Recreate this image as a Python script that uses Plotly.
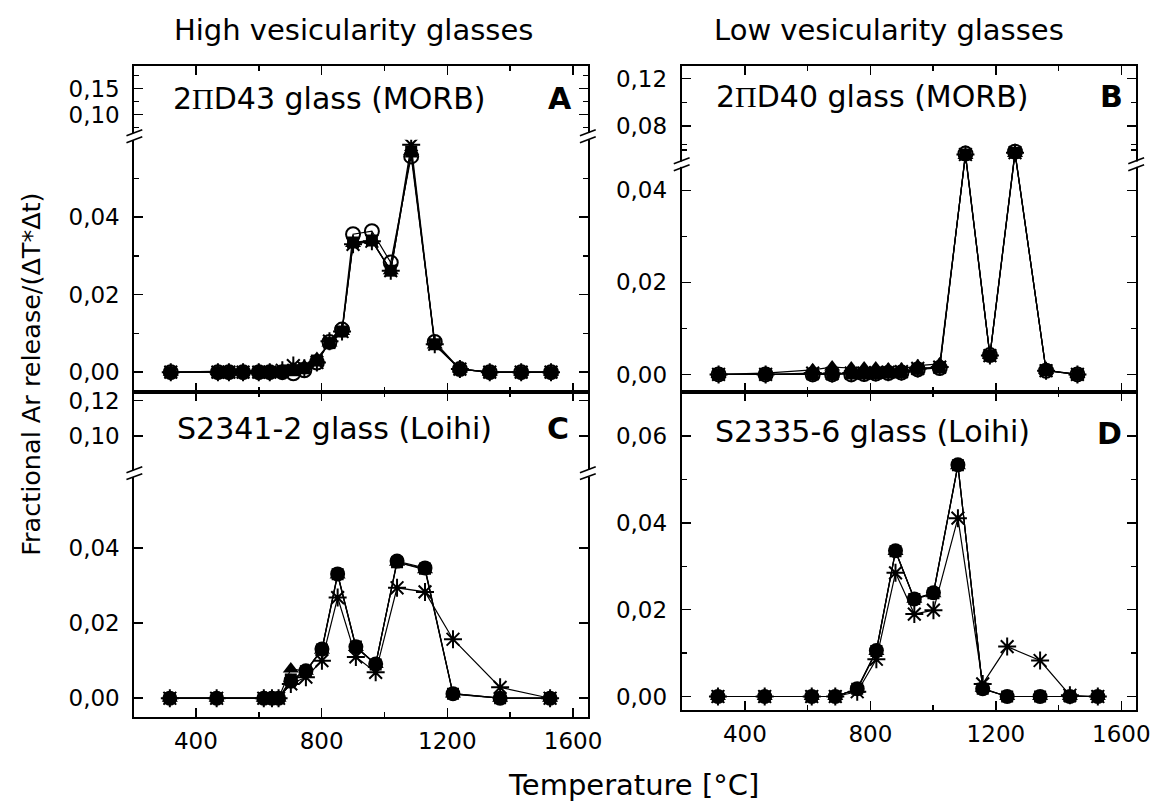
import plotly.graph_objects as go

W, H = 1164, 802
FONT = "DejaVu Sans"

# ---------------- data ----------------
T_A = [320, 470, 505, 550, 600, 635, 675, 710, 745, 785, 825, 865, 900, 960, 1020, 1085, 1160, 1240, 1335, 1435, 1530]
A_sq = [0, 0, 0, 0, 0, 0, 0, 0.0005, 0.001, 0.003, 0.0075, 0.0105, 0.0335, 0.034, 0.0262, 0.057, 0.0072, 0.0008, 0, 0, 0]
A_ci = [0, 0, 0, 0, 0, 0, 0, -0.0003, 0.0005, 0.0025, 0.0078, 0.011, 0.0356, 0.0364, 0.0283, 0.0557, 0.0078, 0.0008, 0, 0, 0]
A_tr = [0, 0.0002, 0.0003, 0.0004, 0.0004, 0.0004, 0.0005, 0.001, 0.0015, 0.0035, 0.0075, 0.0105, 0.0332, 0.034, 0.0262, 0.057, 0.007, 0.0008, 0, 0, 0]
A_st = [0, 0, 0, 0, 0, 0, 0.0005, 0.0017, 0.001, 0.0025, 0.008, 0.0105, 0.033, 0.0338, 0.0262, 0.0587, 0.0072, 0.0008, 0, 0, 0]

T_B = [316, 466, 616, 678, 739, 780, 817, 857, 899, 951, 1021, 1103, 1181, 1261, 1360, 1460]
B_sq = [0, 0, 0, 0, 0.0002, 0.0002, 0.0003, 0.0004, 0.0005, 0.0012, 0.0015, 0.0478, 0.0041, 0.0482, 0.0009, 0]
B_ci = [0, 0, 0, 0, 0, 0.0001, 0.0002, 0.0003, 0.0004, 0.0011, 0.0014, 0.0480, 0.0042, 0.0484, 0.0008, 0]
B_tr = [0, 0.0003, 0.001, 0.0016, 0.0014, 0.0014, 0.0014, 0.0012, 0.0012, 0.0019, 0.0023, 0.0476, 0.0041, 0.0480, 0.0009, 0]
B_st = [0, 0, 0.0003, 0.0002, 0.0003, 0.0003, 0.0004, 0.0005, 0.0006, 0.0013, 0.0016, 0.0478, 0.0041, 0.0482, 0.0008, 0]

T_C = [317, 466, 616, 642, 663, 702, 750, 801, 851, 909, 972, 1040, 1129, 1218, 1368, 1527]
C_sq = [0, 0, 0, 0, 0, 0.005, 0.0072, 0.013, 0.033, 0.0138, 0.009, 0.0362, 0.0345, 0.0012, 0, 0]
C_ci = [0, 0, 0, 0, 0, 0.0045, 0.0073, 0.0131, 0.0331, 0.0137, 0.0091, 0.0365, 0.0347, 0.0012, 0, 0]
C_tr = [0, 0, 0, 0, 0, 0.0078, 0.0072, 0.0128, 0.0328, 0.0135, 0.009, 0.0362, 0.0342, 0.0011, 0, 0]
C_st = [0, 0, 0, 0, 0, 0.0038, 0.0056, 0.0100, 0.0268, 0.011, 0.0069, 0.0294, 0.0283, 0.0157, 0.0029, 0]

T_D = [314, 463, 613, 688, 758, 819, 880, 940, 1001, 1079, 1158, 1236, 1341, 1436, 1525]
D_sq = [0, 0, 0, 0, 0.0018, 0.0105, 0.0335, 0.0225, 0.0238, 0.0533, 0.0018, 0, 0, 0, 0]
D_ci = [0, 0, 0, 0, 0.0018, 0.0106, 0.0336, 0.0225, 0.0239, 0.0534, 0.0018, 0, 0, 0, 0]
D_tr = [0, 0, 0, 0, 0.0017, 0.0104, 0.0334, 0.0224, 0.0237, 0.0532, 0.0019, 0, 0, 0, 0]
D_st = [0, 0, 0, 0, 0.0011, 0.0086, 0.0285, 0.019, 0.0199, 0.0411, 0.0029, 0.0115, 0.0083, 0.0003, 0]

PANEL_TITLES = ["2<span style='font-family:Liberation Serif'>Π</span>D43 glass (MORB)",
                "2<span style='font-family:Liberation Serif'>Π</span>D40 glass (MORB)",
                "S2341-2 glass (Loihi)",
                "S2335-6 glass (Loihi)"]
PANEL_LETTERS = ["A", "B", "C", "D"]
COLUMN_TITLES = ["High vesicularity glasses", "Low vesicularity glasses"]
Y_TITLE = "Fractional Ar release/(ΔT*Δt)"
X_TITLE = "Temperature [°C]"


# ---------------- helpers (layout geometry in reference pixels) ----------------
def fx(p):
    return p / W


def fy(p):
    return 1 - p / H


def lin_range(v1, p1, v2, p2, pa, pb):
    s = (v2 - v1) / (p2 - p1)
    return [v1 + (pa - p1) * s, v1 + (pb - p1) * s]


# brk = (lower domain top, upper domain bottom, lower slash, upper slash)
panels = [
    dict(T=T_A, series=[A_sq, A_ci, A_tr, A_st], open_circle=True,
         xpx=(136, 595), x400=198.3, x1600=580, ybot=390, ytop=62.7,
         lower=(0, 370, 0.04, 214.3), brk=(136.5, 129.5, 136.5, 129.5), upper=(0.10, 111, 0.15, 85),
         ld=0.02, lm=0.01, ud=0.05, um=0.025, xlabels=False,
         title=(173, 95), letter=(581, 95)),
    dict(T=T_B, series=[B_sq, B_ci, B_tr, B_st], open_circle=True,
         xpx=(690, 1150), x400=754, x1600=1135, ybot=390, ytop=62.7,
         lower=(0, 372.3, 0.04, 187.3), brk=(138, 157.5, 164.5, 157.5), upper=(0.08, 122.7, 0.12, 75),
         ld=0.02, lm=0.01, ud=0.04, um=0.02, xlabels=False,
         title=(723, 93), letter=(1139, 93)),
    dict(T=T_C, series=[C_sq, C_ci, C_tr, C_st], open_circle=False,
         xpx=(136, 595), x400=198.3, x1600=580, ybot=717, ytop=390,
         lower=(0, 697.7, 0.04, 546.7), brk=(475, 468, 475, 468), upper=(0.10, 434.3, 0.12, 398.5),
         ld=0.02, lm=None, ud=0.02, um=None, xlabels=True,
         title=(177, 427), letter=(578, 427)),
    dict(T=T_D, series=[D_sq, D_ci, D_tr, D_st], open_circle=False,
         xpx=(690, 1150), x400=754, x1600=1135, ybot=710, ytop=390,
         lower=(0, 696, 0.06, 434.3), brk=None, upper=None,
         ld=0.02, lm=0.01, ud=None, um=None, xlabels=True,
         title=(722, 430), letter=(1138, 432)),
]

TICKFONT = dict(family=FONT, size=23, color="black")
common = dict(showline=True, linecolor="black", linewidth=2, ticks="inside", ticklen=9,
              tickwidth=1.5, tickcolor="black", showgrid=False, zeroline=False,
              tickfont=TICKFONT)
minor_common = dict(ticks="inside", ticklen=5, tickwidth=1.5, tickcolor="black", showgrid=False)

fig = go.Figure()
layout = {}
shapes = []
annotations = []
n = 1


def axkey(kind, i):
    return kind + ("axis" if i == 1 else "axis%d" % i)


def axref(kind, i):
    return kind if i == 1 else "%s%d" % (kind, i)


for pi, p in enumerate(panels):
    left, right = p["xpx"]
    xr = lin_range(400, p["x400"], 1600, p["x1600"], left, right)
    has_brk = p["brk"] is not None
    xb, yl = n, n
    xt, yu = (n + 1, n + 1) if has_brk else (None, None)

    lower_top_px = p["brk"][0] if has_brk else p["ytop"]
    v1, p1, v2, p2 = p["lower"]
    ylr = lin_range(v1, p1, v2, p2, p["ybot"], lower_top_px)

    xminor = dict(minor_common, dtick=200, tick0=0)
    layout[axkey("x", xb)] = dict(common, domain=[fx(left), fx(right)], range=xr,
                                  anchor=axref("y", yl), tickmode="linear", tick0=0, dtick=400,
                                  minor=xminor, showticklabels=p["xlabels"],
                                  mirror=False if has_brk else "ticks", ticklabelstandoff=2)

    ya = dict(common, domain=[fy(p["ybot"]), fy(lower_top_px)], range=ylr,
              anchor=axref("x", xb), tickmode="linear", tick0=0, dtick=p["ld"],
              tickformat=".2f", mirror="ticks", ticklabelstandoff=8)
    if p["lm"]:
        ya["minor"] = dict(minor_common, dtick=p["lm"], tick0=0)
    layout[axkey("y", yl)] = ya

    if has_brk:
        lt, ub, s_lo, s_up = p["brk"]
        u1, q1, u2, q2 = p["upper"]
        yur = lin_range(u1, q1, u2, q2, ub, p["ytop"])
        layout[axkey("x", xt)] = dict(common, domain=[fx(left), fx(right)], range=xr,
                                      anchor=axref("y", yu), side="top", matches=axref("x", xb),
                                      tickmode="linear", tick0=0, dtick=400, minor=xminor,
                                      showticklabels=False, mirror=False)
        yu_ax = dict(common, domain=[fy(ub), fy(p["ytop"])], range=yur,
                     anchor=axref("x", xt), tickmode="linear", tick0=0, dtick=p["ud"],
                     tickformat=".2f", mirror="ticks", ticklabelstandoff=8)
        if p["um"]:
            yu_ax["minor"] = dict(minor_common, dtick=p["um"], tick0=0)
        layout[axkey("y", yu)] = yu_ax
        # empty trace so that the upper segment of the broken axis is drawn
        fig.add_trace(go.Scatter(x=[], y=[], xaxis=axref("x", xt), yaxis=axref("y", yu),
                                 mode="markers", hoverinfo="skip"))
        # break marks: white gap in the axis line plus two slashes
        for xe in (left, right):
            shapes.append(dict(type="rect", xref="paper", yref="paper", layer="above",
                               x0=fx(xe - 3), x1=fx(xe + 3), y0=fy(s_lo - 0.8), y1=fy(s_up + 0.8),
                               fillcolor="white", line=dict(width=0)))
            for yb in (s_lo, s_up):
                shapes.append(dict(type="line", xref="paper", yref="paper", layer="above",
                                   x0=fx(xe - 8), y0=fy(yb + 3), x1=fx(xe + 8), y1=fy(yb - 3),
                                   line=dict(color="black", width=1.6)))

    # traces
    xref, yref = axref("x", xb), axref("y", yl)
    sq, ci, tr, st = p["series"]
    mk_line = dict(color="black", width=1.2)
    fig.add_trace(go.Scatter(x=p["T"], y=sq, xaxis=xref, yaxis=yref, mode="lines+markers",
                             line=mk_line, marker=dict(symbol="square", size=12, color="black")))
    fig.add_trace(go.Scatter(x=p["T"], y=tr, xaxis=xref, yaxis=yref, mode="lines+markers",
                             line=mk_line, marker=dict(symbol="triangle-up", size=14, color="black")))
    if p["open_circle"]:
        cmark = dict(symbol="circle-open", size=14, color="black", line=dict(color="black", width=2))
    else:
        cmark = dict(symbol="circle", size=15, color="black")
    fig.add_trace(go.Scatter(x=p["T"], y=ci, xaxis=xref, yaxis=yref, mode="lines+markers",
                             line=mk_line, marker=cmark))
    fig.add_trace(go.Scatter(x=p["T"], y=st, xaxis=xref, yaxis=yref, mode="lines+markers",
                             line=mk_line,
                             marker=dict(symbol="asterisk-open", size=15, color="black",
                                         line=dict(color="black", width=2))))

    # texts
    tx, ty = p["title"]
    annotations.append(dict(text=PANEL_TITLES[pi], x=fx(tx), y=fy(ty), xref="paper", yref="paper",
                            xanchor="left", yanchor="middle", showarrow=False,
                            font=dict(family=FONT, size=30, color="black")))
    lx, ly = p["letter"]
    annotations.append(dict(text="<b>%s</b>" % PANEL_LETTERS[pi], x=fx(lx), y=fy(ly), xref="paper",
                            yref="paper", xanchor="right", yanchor="middle", showarrow=False,
                            font=dict(family=FONT, size=30, color="black")))
    n += 2 if has_brk else 1

annotations.append(dict(text=COLUMN_TITLES[0], x=fx(358), y=fy(26), xref="paper", yref="paper",
                        xanchor="center", yanchor="middle", showarrow=False,
                        font=dict(family=FONT, size=29, color="black")))
annotations.append(dict(text=COLUMN_TITLES[1], x=fx(900), y=fy(26), xref="paper", yref="paper",
                        xanchor="center", yanchor="middle", showarrow=False,
                        font=dict(family=FONT, size=29, color="black")))
annotations.append(dict(text=Y_TITLE, x=fx(32), y=fy(372), xref="paper", yref="paper",
                        xanchor="center", yanchor="middle", textangle=-90, showarrow=False,
                        font=dict(family=FONT, size=25.5, color="black")))
annotations.append(dict(text=X_TITLE, x=fx(641), y=fy(785), xref="paper", yref="paper",
                        xanchor="center", yanchor="middle", showarrow=False,
                        font=dict(family=FONT, size=29, color="black")))

fig.update_layout(width=W, height=H, autosize=False, margin=dict(l=0, r=0, t=0, b=0),
                  paper_bgcolor="white", plot_bgcolor="rgba(0,0,0,0)", showlegend=False,
                  hovermode=False, separators=",.", shapes=shapes, annotations=annotations, **layout)

# remove the browser's default 8px body margin so the figure fills the window exactly
fig.write_html("out.html", config={"displayModeBar": False, "staticPlot": True},
               post_script="document.body.style.margin='0';document.body.style.overflow='hidden';")
